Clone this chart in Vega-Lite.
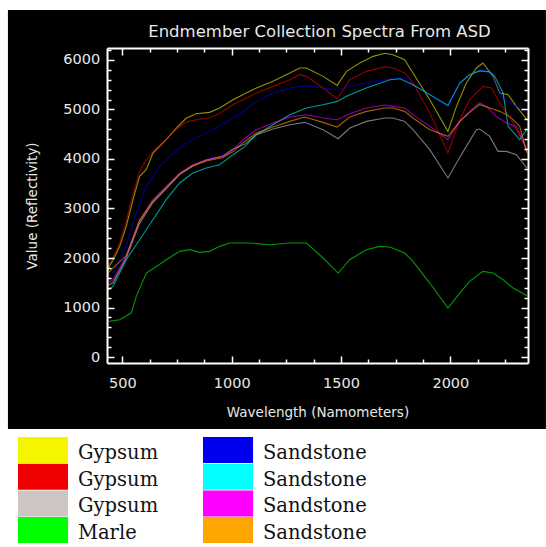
{
  "$schema": "https://vega.github.io/schema/vega-lite/v6.json",
  "width": 421,
  "height": 315,
  "autosize": {"type": "none"},
  "padding": {"left": 107, "top": 48, "right": 18, "bottom": 184},
  "background": "white",
  "config": {"view": {"stroke": null}},
  "title": {"text": "Endmember Collection Spectra From ASD", "frame": "group", "anchor": "middle", "baseline": "alphabetic", "offset": -44, "dx": 2, "font": "DejaVu Sans", "fontSize": 16.5, "fontWeight": "normal", "color": "#e8e8e8"},
  "resolve": {"axis": {"x": "independent", "y": "independent"}},
  "layer": [
    {
      "data": {"values": [{}]},
      "mark": {"type": "rect", "color": "black", "clip": false},
      "encoding": {
        "x": {"datum": -23, "type": "quantitative", "scale": {"domain": [430, 2355], "nice": false, "zero": false},
          "axis": {"orient": "top", "values": [500,625,750,875,1000,1125,1250,1375,1500,1625,1750,1875,2000,2125,2250], "labels": false, "title": null, "grid": false, "tickSize": {"condition": {"test": "datum.value % 500 === 0", "value": -7}, "value": -4}, "domainColor": "white", "domainWidth": 2, "tickColor": "white", "tickWidth": 1.5, "zindex": 1}},
        "x2": {"datum": 2437},
        "y": {"datum": 7010, "type": "quantitative", "scale": {"domain": [-121, 6242], "nice": false, "zero": false},
          "axis": {"orient": "right", "values": [0,200,400,600,800,1000,1200,1400,1600,1800,2000,2200,2400,2600,2800,3000,3200,3400,3600,3800,4000,4200,4400,4600,4800,5000,5200,5400,5600,5800,6000,6200], "labels": false, "title": null, "grid": false, "tickSize": {"condition": {"test": "datum.value % 1000 === 0", "value": -7}, "value": -4}, "domainColor": "white", "domainWidth": 2, "tickColor": "white", "tickWidth": 1.5, "zindex": 1}},
        "y2": {"datum": -1454}
      }
    },
    {
      "data": {"values": [
        {"s":"Gypsum 1","w":430,"r":100},{"s":"Gypsum 1","w":435,"r":1800},{"s":"Gypsum 1","w":457,"r":1950},{"s":"Gypsum 1","w":488,"r":2235},{"s":"Gypsum 1","w":518,"r":2640},{"s":"Gypsum 1","w":549,"r":3178},{"s":"Gypsum 1","w":579,"r":3650},{"s":"Gypsum 1","w":610,"r":3790},{"s":"Gypsum 1","w":640,"r":4120},{"s":"Gypsum 1","w":701,"r":4390},{"s":"Gypsum 1","w":747,"r":4625},{"s":"Gypsum 1","w":793,"r":4827},{"s":"Gypsum 1","w":838,"r":4915},{"s":"Gypsum 1","w":899,"r":4942},{"s":"Gypsum 1","w":945,"r":5030},{"s":"Gypsum 1","w":1006,"r":5198},{"s":"Gypsum 1","w":1060,"r":5320},{"s":"Gypsum 1","w":1113,"r":5434},{"s":"Gypsum 1","w":1189,"r":5568},{"s":"Gypsum 1","w":1266,"r":5737},{"s":"Gypsum 1","w":1311,"r":5838},{"s":"Gypsum 1","w":1342,"r":5838},{"s":"Gypsum 1","w":1418,"r":5669},{"s":"Gypsum 1","w":1482,"r":5487},{"s":"Gypsum 1","w":1525,"r":5770},{"s":"Gypsum 1","w":1586,"r":5939},{"s":"Gypsum 1","w":1647,"r":6073},{"s":"Gypsum 1","w":1700,"r":6135},{"s":"Gypsum 1","w":1738,"r":6107},{"s":"Gypsum 1","w":1791,"r":6006},{"s":"Gypsum 1","w":1829,"r":5737},{"s":"Gypsum 1","w":1906,"r":5198},{"s":"Gypsum 1","w":1989,"r":4558},{"s":"Gypsum 1","w":2028,"r":5063},{"s":"Gypsum 1","w":2073,"r":5535},{"s":"Gypsum 1","w":2119,"r":5838},{"s":"Gypsum 1","w":2149,"r":5939},{"s":"Gypsum 1","w":2195,"r":5669},{"s":"Gypsum 1","w":2226,"r":5333},{"s":"Gypsum 1","w":2264,"r":5299},{"s":"Gypsum 1","w":2302,"r":5063},{"s":"Gypsum 1","w":2350,"r":4794},
        {"s":"Gypsum 2","w":435,"r":1850},{"s":"Gypsum 2","w":457,"r":2000},{"s":"Gypsum 2","w":488,"r":2300},{"s":"Gypsum 2","w":518,"r":2750},{"s":"Gypsum 2","w":549,"r":3300},{"s":"Gypsum 2","w":579,"r":3750},{"s":"Gypsum 2","w":600,"r":3920},{"s":"Gypsum 2","w":640,"r":4150},{"s":"Gypsum 2","w":701,"r":4400},{"s":"Gypsum 2","w":747,"r":4600},{"s":"Gypsum 2","w":793,"r":4750},{"s":"Gypsum 2","w":838,"r":4794},{"s":"Gypsum 2","w":899,"r":4827},{"s":"Gypsum 2","w":945,"r":4920},{"s":"Gypsum 2","w":1006,"r":5100},{"s":"Gypsum 2","w":1060,"r":5210},{"s":"Gypsum 2","w":1113,"r":5333},{"s":"Gypsum 2","w":1189,"r":5467},{"s":"Gypsum 2","w":1266,"r":5602},{"s":"Gypsum 2","w":1311,"r":5703},{"s":"Gypsum 2","w":1342,"r":5669},{"s":"Gypsum 2","w":1418,"r":5434},{"s":"Gypsum 2","w":1482,"r":5211},{"s":"Gypsum 2","w":1540,"r":5602},{"s":"Gypsum 2","w":1616,"r":5770},{"s":"Gypsum 2","w":1700,"r":5860},{"s":"Gypsum 2","w":1738,"r":5838},{"s":"Gypsum 2","w":1791,"r":5737},{"s":"Gypsum 2","w":1829,"r":5535},{"s":"Gypsum 2","w":1906,"r":4929},{"s":"Gypsum 2","w":1989,"r":4120},{"s":"Gypsum 2","w":2043,"r":4794},{"s":"Gypsum 2","w":2088,"r":5198},{"s":"Gypsum 2","w":2149,"r":5467},{"s":"Gypsum 2","w":2188,"r":5434},{"s":"Gypsum 2","w":2226,"r":5131},{"s":"Gypsum 2","w":2287,"r":4727},{"s":"Gypsum 2","w":2350,"r":4188},
        {"s":"Gypsum 3","w":435,"r":1450},{"s":"Gypsum 3","w":457,"r":1500},{"s":"Gypsum 3","w":518,"r":2000},{"s":"Gypsum 3","w":579,"r":2700},{"s":"Gypsum 3","w":640,"r":3120},{"s":"Gypsum 3","w":701,"r":3400},{"s":"Gypsum 3","w":762,"r":3690},{"s":"Gypsum 3","w":823,"r":3870},{"s":"Gypsum 3","w":884,"r":3980},{"s":"Gypsum 3","w":960,"r":4060},{"s":"Gypsum 3","w":1006,"r":4200},{"s":"Gypsum 3","w":1060,"r":4300},{"s":"Gypsum 3","w":1113,"r":4491},{"s":"Gypsum 3","w":1189,"r":4605},{"s":"Gypsum 3","w":1266,"r":4693},{"s":"Gypsum 3","w":1334,"r":4740},{"s":"Gypsum 3","w":1418,"r":4592},{"s":"Gypsum 3","w":1487,"r":4410},{"s":"Gypsum 3","w":1540,"r":4626},{"s":"Gypsum 3","w":1616,"r":4760},{"s":"Gypsum 3","w":1700,"r":4828},{"s":"Gypsum 3","w":1738,"r":4828},{"s":"Gypsum 3","w":1791,"r":4760},{"s":"Gypsum 3","w":1829,"r":4592},{"s":"Gypsum 3","w":1906,"r":4188},{"s":"Gypsum 3","w":1989,"r":3616},{"s":"Gypsum 3","w":2028,"r":3918},{"s":"Gypsum 3","w":2073,"r":4255},{"s":"Gypsum 3","w":2119,"r":4592},{"s":"Gypsum 3","w":2134,"r":4605},{"s":"Gypsum 3","w":2180,"r":4457},{"s":"Gypsum 3","w":2218,"r":4154},{"s":"Gypsum 3","w":2256,"r":4154},{"s":"Gypsum 3","w":2302,"r":4087},{"s":"Gypsum 3","w":2350,"r":3817},
        {"s":"Marle","w":430,"r":50},{"s":"Marle","w":433,"r":720},{"s":"Marle","w":488,"r":754},{"s":"Marle","w":541,"r":888},{"s":"Marle","w":564,"r":1225},{"s":"Marle","w":610,"r":1696},{"s":"Marle","w":656,"r":1830},{"s":"Marle","w":701,"r":1966},{"s":"Marle","w":762,"r":2134},{"s":"Marle","w":808,"r":2168},{"s":"Marle","w":853,"r":2114},{"s":"Marle","w":899,"r":2134},{"s":"Marle","w":945,"r":2235},{"s":"Marle","w":991,"r":2302},{"s":"Marle","w":1082,"r":2302},{"s":"Marle","w":1174,"r":2269},{"s":"Marle","w":1266,"r":2302},{"s":"Marle","w":1342,"r":2302},{"s":"Marle","w":1418,"r":2000},{"s":"Marle","w":1487,"r":1696},{"s":"Marle","w":1540,"r":1966},{"s":"Marle","w":1616,"r":2168},{"s":"Marle","w":1677,"r":2235},{"s":"Marle","w":1723,"r":2221},{"s":"Marle","w":1791,"r":2100},{"s":"Marle","w":1829,"r":1932},{"s":"Marle","w":1906,"r":1494},{"s":"Marle","w":1989,"r":989},{"s":"Marle","w":2043,"r":1292},{"s":"Marle","w":2088,"r":1528},{"s":"Marle","w":2149,"r":1730},{"s":"Marle","w":2195,"r":1696},{"s":"Marle","w":2241,"r":1562},{"s":"Marle","w":2287,"r":1393},{"s":"Marle","w":2350,"r":1238},
        {"s":"Sandstone 1","w":435,"r":1600},{"s":"Sandstone 1","w":457,"r":1700},{"s":"Sandstone 1","w":518,"r":2235},{"s":"Sandstone 1","w":564,"r":2910},{"s":"Sandstone 1","w":610,"r":3447},{"s":"Sandstone 1","w":671,"r":3851},{"s":"Sandstone 1","w":732,"r":4120},{"s":"Sandstone 1","w":793,"r":4323},{"s":"Sandstone 1","w":853,"r":4457},{"s":"Sandstone 1","w":930,"r":4625},{"s":"Sandstone 1","w":1006,"r":4827},{"s":"Sandstone 1","w":1060,"r":4990},{"s":"Sandstone 1","w":1113,"r":5164},{"s":"Sandstone 1","w":1189,"r":5333},{"s":"Sandstone 1","w":1266,"r":5434},{"s":"Sandstone 1","w":1342,"r":5481},{"s":"Sandstone 1","w":1418,"r":5434},{"s":"Sandstone 1","w":1482,"r":5400},{"s":"Sandstone 1","w":1570,"r":5501},{"s":"Sandstone 1","w":1647,"r":5568},{"s":"Sandstone 1","w":1723,"r":5615},{"s":"Sandstone 1","w":1791,"r":5636},{"s":"Sandstone 1","w":1829,"r":5501},{"s":"Sandstone 1","w":1906,"r":5299},{"s":"Sandstone 1","w":1989,"r":5063},{"s":"Sandstone 1","w":2043,"r":5535},{"s":"Sandstone 1","w":2088,"r":5703},{"s":"Sandstone 1","w":2134,"r":5790},{"s":"Sandstone 1","w":2180,"r":5770},{"s":"Sandstone 1","w":2218,"r":5450},{"s":"Sandstone 1","w":2241,"r":5200},{"s":"Sandstone 1","w":2287,"r":5100},{"s":"Sandstone 1","w":2350,"r":4950},
        {"s":"Sandstone 2","w":435,"r":1350},{"s":"Sandstone 2","w":457,"r":1427},{"s":"Sandstone 2","w":518,"r":1966},{"s":"Sandstone 2","w":579,"r":2370},{"s":"Sandstone 2","w":640,"r":2774},{"s":"Sandstone 2","w":701,"r":3178},{"s":"Sandstone 2","w":762,"r":3515},{"s":"Sandstone 2","w":823,"r":3716},{"s":"Sandstone 2","w":884,"r":3817},{"s":"Sandstone 2","w":945,"r":3885},{"s":"Sandstone 2","w":1006,"r":4087},{"s":"Sandstone 2","w":1060,"r":4250},{"s":"Sandstone 2","w":1113,"r":4491},{"s":"Sandstone 2","w":1189,"r":4693},{"s":"Sandstone 2","w":1266,"r":4895},{"s":"Sandstone 2","w":1342,"r":5030},{"s":"Sandstone 2","w":1418,"r":5097},{"s":"Sandstone 2","w":1482,"r":5164},{"s":"Sandstone 2","w":1525,"r":5265},{"s":"Sandstone 2","w":1616,"r":5434},{"s":"Sandstone 2","w":1723,"r":5602},{"s":"Sandstone 2","w":1770,"r":5620},{"s":"Sandstone 2","w":1829,"r":5500},{"s":"Sandstone 2","w":1906,"r":5300},{"s":"Sandstone 2","w":1989,"r":5080},{"s":"Sandstone 2","w":2043,"r":5535},{"s":"Sandstone 2","w":2088,"r":5700},{"s":"Sandstone 2","w":2134,"r":5780},{"s":"Sandstone 2","w":2180,"r":5760},{"s":"Sandstone 2","w":2203,"r":5669},{"s":"Sandstone 2","w":2241,"r":5333},{"s":"Sandstone 2","w":2264,"r":4659},{"s":"Sandstone 2","w":2317,"r":4390},{"s":"Sandstone 2","w":2350,"r":4600},
        {"s":"Sandstone 3","w":435,"r":1500},{"s":"Sandstone 3","w":457,"r":1560},{"s":"Sandstone 3","w":518,"r":2033},{"s":"Sandstone 3","w":579,"r":2774},{"s":"Sandstone 3","w":640,"r":3178},{"s":"Sandstone 3","w":701,"r":3447},{"s":"Sandstone 3","w":762,"r":3716},{"s":"Sandstone 3","w":823,"r":3885},{"s":"Sandstone 3","w":884,"r":3986},{"s":"Sandstone 3","w":960,"r":4053},{"s":"Sandstone 3","w":1006,"r":4188},{"s":"Sandstone 3","w":1060,"r":4420},{"s":"Sandstone 3","w":1113,"r":4592},{"s":"Sandstone 3","w":1189,"r":4727},{"s":"Sandstone 3","w":1266,"r":4848},{"s":"Sandstone 3","w":1342,"r":4895},{"s":"Sandstone 3","w":1418,"r":4828},{"s":"Sandstone 3","w":1482,"r":4794},{"s":"Sandstone 3","w":1540,"r":4915},{"s":"Sandstone 3","w":1616,"r":5030},{"s":"Sandstone 3","w":1700,"r":5090},{"s":"Sandstone 3","w":1738,"r":5063},{"s":"Sandstone 3","w":1791,"r":5030},{"s":"Sandstone 3","w":1829,"r":4895},{"s":"Sandstone 3","w":1906,"r":4659},{"s":"Sandstone 3","w":1989,"r":4390},{"s":"Sandstone 3","w":2043,"r":4760},{"s":"Sandstone 3","w":2088,"r":4962},{"s":"Sandstone 3","w":2134,"r":5131},{"s":"Sandstone 3","w":2165,"r":5063},{"s":"Sandstone 3","w":2210,"r":4861},{"s":"Sandstone 3","w":2256,"r":4727},{"s":"Sandstone 3","w":2302,"r":4659},{"s":"Sandstone 3","w":2350,"r":4188},
        {"s":"Sandstone 4","w":435,"r":1700},{"s":"Sandstone 4","w":518,"r":2050},{"s":"Sandstone 4","w":579,"r":2750},{"s":"Sandstone 4","w":640,"r":3150},{"s":"Sandstone 4","w":701,"r":3420},{"s":"Sandstone 4","w":762,"r":3690},{"s":"Sandstone 4","w":823,"r":3860},{"s":"Sandstone 4","w":884,"r":3960},{"s":"Sandstone 4","w":960,"r":4030},{"s":"Sandstone 4","w":1006,"r":4150},{"s":"Sandstone 4","w":1060,"r":4356},{"s":"Sandstone 4","w":1113,"r":4525},{"s":"Sandstone 4","w":1189,"r":4646},{"s":"Sandstone 4","w":1266,"r":4760},{"s":"Sandstone 4","w":1334,"r":4848},{"s":"Sandstone 4","w":1418,"r":4740},{"s":"Sandstone 4","w":1482,"r":4646},{"s":"Sandstone 4","w":1540,"r":4848},{"s":"Sandstone 4","w":1616,"r":4962},{"s":"Sandstone 4","w":1700,"r":5030},{"s":"Sandstone 4","w":1738,"r":5030},{"s":"Sandstone 4","w":1791,"r":4962},{"s":"Sandstone 4","w":1829,"r":4828},{"s":"Sandstone 4","w":1906,"r":4592},{"s":"Sandstone 4","w":1989,"r":4457},{"s":"Sandstone 4","w":2043,"r":4760},{"s":"Sandstone 4","w":2088,"r":4942},{"s":"Sandstone 4","w":2134,"r":5097},{"s":"Sandstone 4","w":2180,"r":5030},{"s":"Sandstone 4","w":2226,"r":4962},{"s":"Sandstone 4","w":2271,"r":4861},{"s":"Sandstone 4","w":2317,"r":4659},{"s":"Sandstone 4","w":2350,"r":4121}
      ]},
      "mark": {"type": "line", "strokeWidth": 1.1, "opacity": 0.6, "clip": true},
      "encoding": {
        "x": {"field": "w", "type": "quantitative", "scale": {"domain": [430, 2355], "nice": false, "zero": false},
          "axis": {"orient": "bottom", "values": [500,625,750,875,1000,1125,1250,1375,1500,1625,1750,1875,2000,2125,2250], "format": "d", "labelExpr": "datum.value % 500 === 0 ? datum.label : ''", "labelFlush": false, "labelOverlap": false, "labelPadding": 20, "grid": false,
            "tickSize": {"condition": {"test": "datum.value % 500 === 0", "value": -7}, "value": -4},
            "domainColor": "white", "domainWidth": 2, "tickColor": "white", "tickWidth": 1.5, "zindex": 1,
            "labelColor": "#e8e8e8", "labelFont": "DejaVu Sans", "labelFontSize": 14.5,
            "title": "Wavelength (Namometers)", "titleColor": "#e8e8e8", "titleFont": "DejaVu Sans", "titleFontSize": 13.5, "titleFontWeight": "normal", "titlePadding": 13}},
        "y": {"field": "r", "type": "quantitative", "scale": {"domain": [-121, 6242], "nice": false, "zero": false},
          "axis": {"orient": "left", "values": [0,200,400,600,800,1000,1200,1400,1600,1800,2000,2200,2400,2600,2800,3000,3200,3400,3600,3800,4000,4200,4400,4600,4800,5000,5200,5400,5600,5800,6000,6200], "format": "d", "labelExpr": "datum.value % 1000 === 0 ? datum.label : ''", "labelFlush": false, "labelOverlap": false, "labelPadding": 14.3, "grid": false,
            "tickSize": {"condition": {"test": "datum.value % 1000 === 0", "value": -7}, "value": -4},
            "domainColor": "white", "domainWidth": 2, "tickColor": "white", "tickWidth": 1.5, "zindex": 1,
            "labelColor": "#e8e8e8", "labelFont": "DejaVu Sans", "labelFontSize": 14.5,
            "title": "Value (Reflectivity)", "titleColor": "#e8e8e8", "titleFont": "DejaVu Sans", "titleFontSize": 13.5, "titleFontWeight": "normal", "titlePadding": 23}},
        "color": {"field": "s", "type": "nominal",
          "scale": {"domain": ["Gypsum 1","Gypsum 2","Gypsum 3","Marle","Sandstone 1","Sandstone 2","Sandstone 3","Sandstone 4"], "range": ["#f5f500","#f00000","#cdc4c4","#00ff00","#0000ee","#00ffff","#ff00ff","#ffa500"]},
          "legend": {"orient": "none", "legendX": -89, "legendY": 389, "direction": "vertical", "columns": 2, "title": null, "padding": 0,
            "symbolType": "M-1,-1H2.85V1H-1Z", "symbolSize": 676, "symbolStrokeWidth": 0, "symbolOpacity": 1,
            "labelFont": "DejaVu Serif", "labelFontSize": 19.5, "labelColor": "#111111", "labelOffset": 34, "labelLimit": 0,
            "labelExpr": "split(datum.label, ' ')[0]", "rowPadding": 0.7, "columnPadding": 44,
            "encode": {"symbols": {"update": {"fill": {"scale": "color", "field": "value"}, "stroke": {"value": "transparent"}, "opacity": {"value": 1}}}, "labels": {"update": {"dy": {"value": 3}}}}}}
      }
    }
  ]
}
